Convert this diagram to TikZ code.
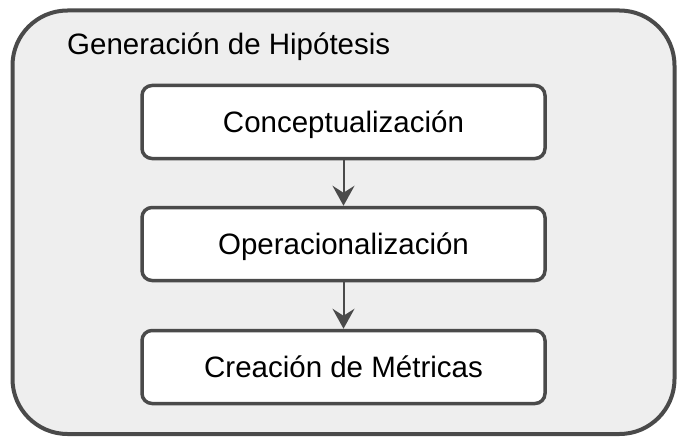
\documentclass[tikz,border=0pt]{standalone}
\usepackage{fontspec}
\setmainfont{Liberation Sans}
\usetikzlibrary{arrows.meta}
\definecolor{edge}{HTML}{4A4A4A}
\definecolor{bg}{HTML}{EEEEEE}
\begin{document}
\begin{tikzpicture}[x=1pt,y=-1pt,
  outer/.style={draw=edge,line width=4pt,fill=bg,rounded corners=55pt},
  stepbox/.style={draw=edge,line width=3.5pt,fill=white,rounded corners=10pt,minimum width=403pt,minimum height=73pt,inner sep=0pt,text height=21pt,text depth=0pt,font=\fontsize{29.5}{34}\selectfont},
  conn/.style={draw=edge,line width=2pt,-{Stealth[length=20pt,width=22pt,inset=7pt]}}]
\useasboundingbox (0,0) rectangle (686,444);
\draw[outer] (12.5,10.5) rectangle (674.5,434);
\node[anchor=base west,inner sep=0pt,font=\fontsize{29.5}{34}\selectfont] (title) at (67,55) {Generación de Hipótesis};
\node[stepbox] (a) at (343.5,122) {Conceptualización};
\node[stepbox] (b) at (343.5,244) {Operacionalización};
\node[stepbox] (c) at (343.5,367) {Creación de Métricas};
\draw[conn] (a) -- (b);
\draw[conn] (b) -- (c);
\end{tikzpicture}
\end{document}
